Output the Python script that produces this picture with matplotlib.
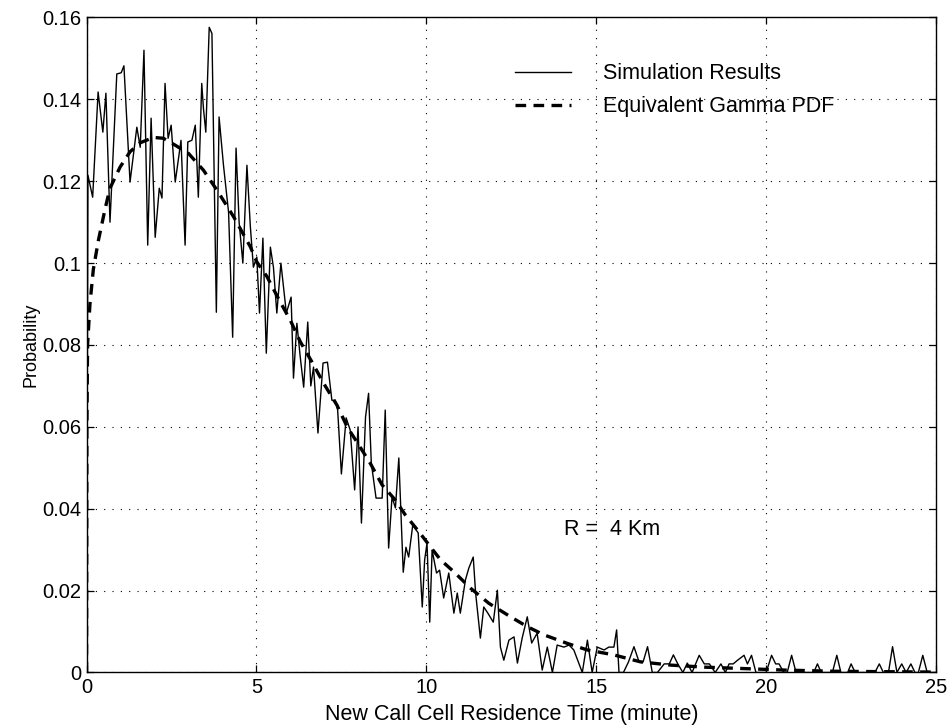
import matplotlib
matplotlib.use('Agg')
import matplotlib.pyplot as plt

plt.rcParams['font.family'] = ['Liberation Sans', 'DejaVu Sans']

# simulation histogram
sim_t = [0.00, 0.04, 0.18, 0.34, 0.48, 0.57, 0.69, 0.89, 1.02, 1.10, 1.28, 1.48, 1.58, 1.69,
         1.80, 1.90, 2.02, 2.14, 2.22, 2.31, 2.40, 2.49, 2.61, 2.78, 2.90, 2.98, 3.10, 3.20,
         3.29, 3.39, 3.44, 3.51, 3.61, 3.69, 3.82, 3.90, 4.03, 4.18, 4.30, 4.40, 4.49, 4.60,
         4.72, 4.82, 4.91, 5.01, 5.09, 5.19, 5.29, 5.41, 5.50, 5.60, 5.72, 5.88, 6.02, 6.09,
         6.19, 6.29, 6.39, 6.51, 6.60, 6.68, 6.81, 6.96, 7.09, 7.22, 7.32, 7.39, 7.50, 7.64,
         7.76, 7.89, 7.99, 8.09, 8.21, 8.30, 8.38, 8.52, 8.70, 8.79, 8.89, 8.99, 9.09, 9.19,
         9.32, 9.40, 9.48, 9.60, 9.76, 9.88, 9.95, 10.02, 10.10, 10.17, 10.30, 10.39, 10.51,
         10.66, 10.81, 10.91, 11.00, 11.15, 11.25, 11.38, 11.45, 11.59, 11.69, 11.81, 11.97,
         12.09, 12.18, 12.28, 12.43, 12.58, 12.68, 12.82, 12.97, 13.10, 13.26, 13.41, 13.56,
         13.71, 13.85, 14.05, 14.20, 14.34, 14.59, 14.74, 14.88, 15.03, 15.23, 15.37, 15.52,
         15.60, 15.67, 15.80, 15.95, 16.11, 16.26, 16.38, 16.51, 16.65, 16.80, 17.00, 17.15,
         17.27, 17.40, 17.55, 17.68, 17.82, 18.03, 18.18, 18.33, 18.50, 18.67, 18.80, 18.91,
         19.03, 19.16, 19.35, 19.45, 19.57, 19.70, 20.00, 20.16, 20.28, 20.38, 20.52, 20.62,
         20.75, 20.88, 21.40, 21.51, 21.62, 21.95, 22.08, 22.20, 22.40, 22.50, 22.62, 23.20,
         23.33, 23.45, 23.60, 23.72, 23.85, 23.99, 24.12, 24.26, 24.38, 24.48, 24.61, 24.74,
         25.00]
sim_p = [0.0000, 0.1215, 0.1161, 0.1418, 0.1320, 0.1415, 0.1100, 0.1462, 0.1465, 0.1482,
         0.1198, 0.1332, 0.1283, 0.1520, 0.1044, 0.1354, 0.1063, 0.1183, 0.1159, 0.1439,
         0.1305, 0.1337, 0.1198, 0.1300, 0.1044, 0.1296, 0.1300, 0.1337, 0.1161, 0.1439,
         0.1378, 0.1320, 0.1576, 0.1561, 0.0880, 0.1357, 0.1239, 0.1124, 0.0819, 0.1281,
         0.1100, 0.1000, 0.1239, 0.1090, 0.0990, 0.1015, 0.0878, 0.1061, 0.0780, 0.1039,
         0.0990, 0.0878, 0.1000, 0.0878, 0.0917, 0.0719, 0.0853, 0.0770, 0.0697, 0.0856,
         0.0700, 0.0746, 0.0585, 0.0756, 0.0758, 0.0665, 0.0665, 0.0641, 0.0485, 0.0622,
         0.0592, 0.0446, 0.0600, 0.0365, 0.0624, 0.0682, 0.0512, 0.0426, 0.0426, 0.0641,
         0.0304, 0.0429, 0.0402, 0.0524, 0.0245, 0.0306, 0.0282, 0.0360, 0.0341, 0.0160,
         0.0275, 0.0316, 0.0123, 0.0299, 0.0243, 0.0250, 0.0182, 0.0243, 0.0145, 0.0194,
         0.0145, 0.0226, 0.0255, 0.0282, 0.0194, 0.0084, 0.0160, 0.0145, 0.0123, 0.0201,
         0.0062, 0.0030, 0.0079, 0.0087, 0.0023, 0.0084, 0.0136, 0.0072, 0.0096, 0.0006,
         0.0062, 0.0000, 0.0067, 0.0062, 0.0067, 0.0055, 0.0000, 0.0079, 0.0000, 0.0062,
         0.0055, 0.0062, 0.0062, 0.0104, 0.0000, 0.0000, 0.0026, 0.0063, 0.0026, 0.0026,
         0.0063, 0.0000, 0.0000, 0.0021, 0.0021, 0.0043, 0.0021, 0.0000, 0.0023, 0.0000,
         0.0042, 0.0021, 0.0021, 0.0000, 0.0021, 0.0000, 0.0021, 0.0021, 0.0030, 0.0042,
         0.0021, 0.0042, 0.0000, 0.0000, 0.0042, 0.0021, 0.0021, 0.0000, 0.0000, 0.0042,
         0.0000, 0.0000, 0.0021, 0.0000, 0.0000, 0.0042, 0.0000, 0.0000, 0.0021, 0.0000,
         0.0000, 0.0021, 0.0000, 0.0000, 0.0063, 0.0000, 0.0021, 0.0000, 0.0021, 0.0000,
         0.0000, 0.0042, 0.0000, 0.0000]

# equivalent gamma pdf
gam_t = [0.00, 0.01, 0.03, 0.10, 0.20, 0.35, 0.55, 0.69, 0.99, 1.28, 1.58, 1.97, 2.26, 2.61,
         3.00, 3.44, 3.84, 4.33, 4.82, 5.01, 5.31, 5.70, 6.00, 6.29, 6.63, 6.98, 7.37, 7.67,
         8.01, 8.35, 8.70, 9.09, 9.38, 9.78, 10.12, 10.42, 10.81, 11.30, 11.84, 12.48, 12.97,
         13.46, 14.15, 14.74, 15.52, 16.30, 17.20, 18.20, 19.20, 20.50, 22.00, 23.50, 25.00]
gam_p = [0.0000, 0.0600, 0.0800, 0.0900, 0.0985, 0.1056, 0.1134, 0.1183, 0.1235, 0.1272,
         0.1294, 0.1307, 0.1305, 0.1288, 0.1268, 0.1227, 0.1178, 0.1113, 0.1040, 0.1003,
         0.0967, 0.0905, 0.0860, 0.0808, 0.0759, 0.0706, 0.0653, 0.0600, 0.0556, 0.0511,
         0.0458, 0.0421, 0.0385, 0.0344, 0.0307, 0.0275, 0.0246, 0.0206, 0.0169, 0.0136,
         0.0112, 0.0092, 0.0071, 0.0055, 0.0043, 0.0026, 0.0018, 0.0013, 0.0010, 0.0006,
         0.0003, 0.0002, 0.0001]

xticks = [0, 5, 10, 15, 20, 25]
yticks = [0, 0.02, 0.04, 0.06, 0.08, 0.1, 0.12, 0.14, 0.16]
ytick_labels = ['0', '0.02', '0.04', '0.06', '0.08', '0.1', '0.12', '0.14', '0.16']

fig = plt.figure(figsize=(9.5, 7.26), dpi=100)
ax = fig.add_axes([0.0911, 0.0737, 0.8942, 0.9022])

ax.plot(sim_t, sim_p, color='black', lw=1.0, label='Simulation Results')
ax.plot(gam_t, gam_p, color='black', lw=2.4, dashes=(3.2, 2.2), label='Equivalent Gamma PDF')

ax.set_xlim(0, 25)
ax.set_ylim(0, 0.16)
ax.set_xticks(xticks)
ax.set_yticks(yticks)
ax.set_yticklabels(ytick_labels)
ax.grid(True, color='black', lw=0.8, ls=(0, (1, 6.5)))
ax.tick_params(direction='in', length=5, width=0.9, top=True, right=True,
               labelsize=14.5, pad=4)
for s in ax.spines.values():
    s.set_linewidth(1.0)

ax.set_xlabel('New Call Cell Residence Time (minute)', fontsize=15.5, labelpad=5)
ax.set_ylabel('Probability', fontsize=13, labelpad=2)

ax.text(14.04, 0.035, 'R =  4 Km', fontsize=15.5, va='center', ha='left')

leg = ax.legend(loc='upper left', bbox_to_anchor=(0.5044, 0.93), frameon=False,
                fontsize=15.5, handlelength=2.6, handletextpad=1.5, labelspacing=0.55,
                borderaxespad=0, borderpad=0)

fig.savefig('out.png', dpi=100)
